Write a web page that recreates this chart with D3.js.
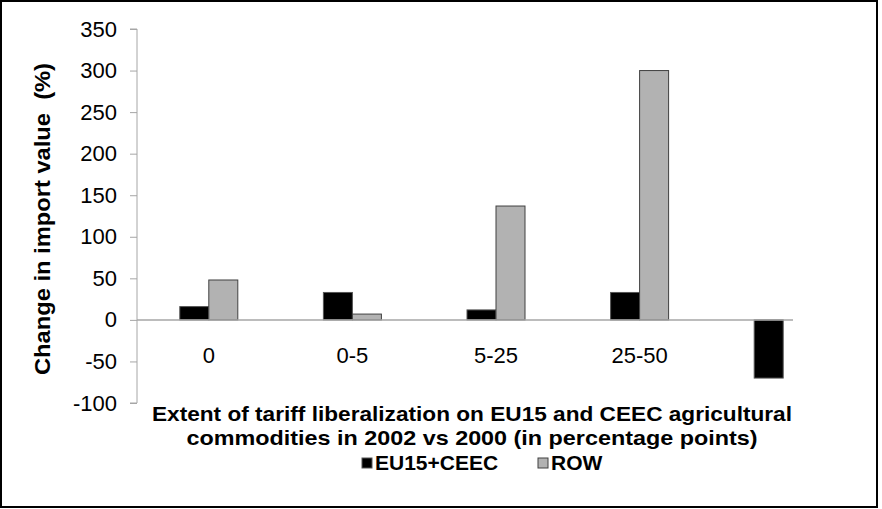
<!DOCTYPE html>
<html>
<head>
<meta charset="utf-8">
<script src="https://cdn.jsdelivr.net/npm/d3@7"></script>
<style>
  body { margin: 0; background: #fff; }
  svg { display: block; font-family: "Liberation Sans", Arial, sans-serif; }
</style>
</head>
<body>
<div id="chart"></div>
<script>
// chart values
const categories = ['0', '0-5', '5-25', '25-50', ''];
const seriesNames = ['EU15+CEEC', 'ROW'];
const euValues = [16, 33, 12, 33, -70];
const rowValues = [48, 7, 137, 300, null];
const yTicks = [-100, -50, 0, 50, 100, 150, 200, 250, 300, 350];
const xTitleLines = [
    'Extent of tariff liberalization on EU15 and CEEC agricultural',
    'commodities in 2002 vs 2000 (in percentage points)',
];
const yTitle = 'Change in import value  (%)';

const colors = { 'EU15+CEEC': '#000000', ROW: '#b2b2b2' };
const strokes = { 'EU15+CEEC': '#555555', ROW: '#404040' };

const width = 882;
const height = 509;

const svg = d3.select('#chart')
    .append('svg')
    .attr('width', width)
    .attr('height', height);

svg.append('rect')
    .attr('x', 1)
    .attr('y', 1)
    .attr('width', 876)
    .attr('height', 506)
    .attr('fill', '#fff')
    .attr('stroke', '#000')
    .attr('stroke-width', 2);

// Scales
const plotLeft = 137;
const plotRight = 793;
const xScale = d3.scaleBand()
    .domain(d3.range(categories.length))
    .range([plotLeft, plotLeft + 143.6 * categories.length]);

const inner = d3.scaleBand()
    .domain(seriesNames)
    .range([-29, 29]);

const yScale = d3.scaleLinear()
    .domain([-100, 350])
    .range([403, 29]);

const centre = (i) => xScale(i) + xScale.bandwidth() / 2;

// y axis
const yAxis = d3.axisLeft(yScale)
    .tickValues(yTicks)
    .tickSize(7)
    .tickPadding(13)
    .tickFormat((value) => value);

const yg = svg.append('g')
    .attr('transform', `translate(${plotLeft},0)`)
    .call(yAxis);
yg.select('.domain').attr('stroke', '#a6a6a6').attr('d', `M-7,${yScale(350)}H0V${yScale(-100)}H-7`);
yg.selectAll('.tick line').attr('stroke', '#a6a6a6');
yg.selectAll('.tick text')
    .attr('fill', '#000')
    .style('font-size', '22px');

// bars
const rows = categories.map((c, i) => ({ i, 'EU15+CEEC': euValues[i], ROW: rowValues[i] }));
seriesNames.forEach((name) => {
    svg.append('g')
        .selectAll('rect')
        .data(rows.filter((d) => d[name] !== null))
        .join('rect')
        .attr('x', (d) => centre(d.i) + inner(name))
        .attr('width', inner.bandwidth())
        .attr('y', (d) => yScale(Math.max(0, d[name])))
        .attr('height', (d) => Math.abs(yScale(d[name]) - yScale(0)))
        .attr('fill', colors[name])
        .attr('stroke', strokes[name])
        .attr('stroke-width', 1);
});

// zero line
svg.append('line')
    .attr('x1', plotLeft)
    .attr('x2', plotRight)
    .attr('y1', yScale(0))
    .attr('y2', yScale(0))
    .attr('stroke', '#a6a6a6')
    .attr('stroke-width', 1.5);

// category labels
const xAxis = d3.axisBottom(xScale)
    .tickSize(0)
    .tickPadding(7)
    .tickFormat((i) => categories[i]);

const xg = svg.append('g')
    .attr('transform', 'translate(0,340)')
    .call(xAxis);
xg.select('.domain').remove();
xg.selectAll('.tick text')
    .attr('fill', '#000')
    .style('font-size', '22px');

// axis titles
svg.append('text')
    .attr('transform', `translate(50,${(63 + 375) / 2}) rotate(-90)`)
    .attr('text-anchor', 'middle')
    .attr('textLength', 312)
    .attr('lengthAdjust', 'spacingAndGlyphs')
    .style('font-size', '22px')
    .style('font-weight', 'bold')
    .style('white-space', 'pre')
    .text(yTitle);

const titleWidths = [640, 571];
xTitleLines.forEach((line, k) => {
    svg.append('text')
        .attr('x', 472)
        .attr('y', 421 + k * 24)
        .attr('text-anchor', 'middle')
        .attr('textLength', titleWidths[k])
        .attr('lengthAdjust', 'spacingAndGlyphs')
        .style('font-size', '21px')
        .style('font-weight', 'bold')
        .text(line);
});

// Legend
const legend = svg.append('g')
    .attr('transform', 'translate(362,463)');
const legendX = [0, 176];
seriesNames.forEach((name, k) => {
    legend.append('rect')
        .attr('x', legendX[k])
        .attr('y', -5)
        .attr('width', 10)
        .attr('height', 10)
        .attr('fill', colors[name])
        .attr('stroke', strokes[name]);
    legend.append('text')
        .attr('x', legendX[k] + 13)
        .attr('y', 7)
        .style('font-size', '21px')
        .style('font-weight', 'bold')
        .text(name);
});
</script>
</body>
</html>
